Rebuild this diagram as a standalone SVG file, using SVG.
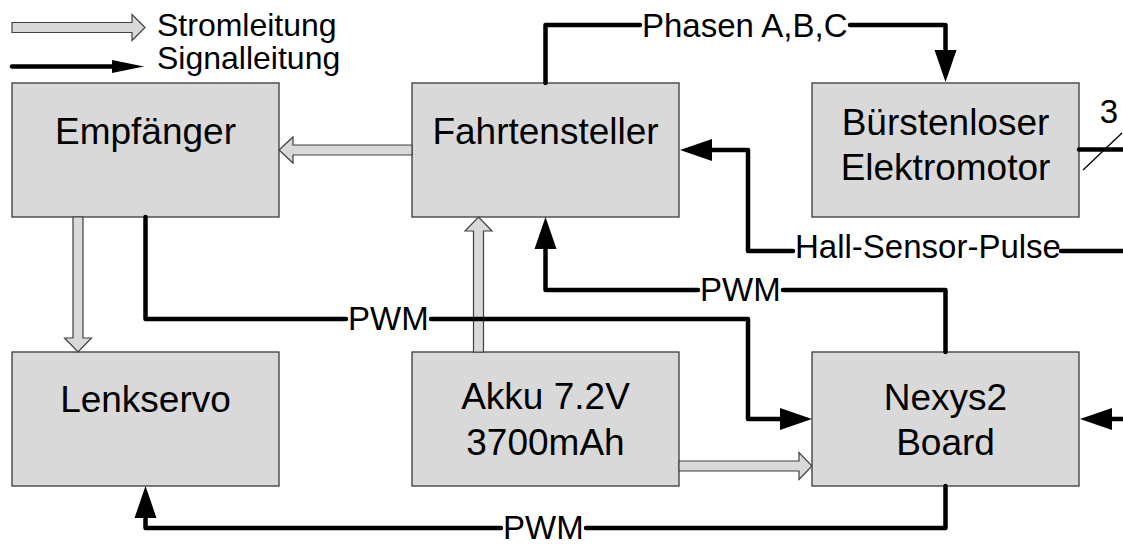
<svg xmlns="http://www.w3.org/2000/svg" width="1123" height="548" viewBox="0 0 1123 548">
<style>
  .box{fill:#d9d9d9;stroke:#3a3a3a;stroke-width:1.3}
  .t{font-family:"Liberation Sans",Arial,sans-serif;font-size:37px;fill:#000;text-anchor:middle}
  .lbl{font-family:"Liberation Sans",Arial,sans-serif;font-size:33px;fill:#000}
  .leg{font-family:"Liberation Sans",Arial,sans-serif;font-size:32px;fill:#000}
  .pow{fill:#d9d9d9;stroke:#404040;stroke-width:1.2;stroke-linejoin:miter}
  .sig{fill:none;stroke:#000;stroke-width:4.5;stroke-linecap:round;stroke-linejoin:round}
  .thin{fill:none;stroke:#000;stroke-width:1.3}
</style>
<defs>
  <marker id="sig" markerUnits="userSpaceOnUse" markerWidth="32" markerHeight="22" refX="0" refY="11" orient="auto" overflow="visible">
    <path d="M0,0 L32,11 L0,22 z" fill="#000"/>
  </marker>
  <marker id="sigLegend" markerUnits="userSpaceOnUse" markerWidth="32" markerHeight="13" refX="0" refY="6.5" orient="auto" overflow="visible">
    <path d="M0,0 L32,6.5 L0,13 z" fill="#000"/>
  </marker>
</defs>
<rect width="1123" height="548" fill="#fff"/>

<g id="legend">
  <polygon class="pow" points="12,22.5 132,22.5 132,14.5 145,27.5 132,40.5 132,32.5 12,32.5"/>
  <text class="leg" x="157" y="36">Stromleitung</text>
  <path class="sig" d="M12,66.5 H112" marker-end="url(#sigLegend)"/>
  <text class="leg" x="157" y="69">Signalleitung</text>
</g>

<g id="node-empfaenger">
  <rect class="box" x="12" y="83" width="267" height="134"/>
  <text class="t" x="145.5" y="144">Empfänger</text>
</g>
<g id="node-fahrtensteller">
  <rect class="box" x="412" y="83" width="267" height="134"/>
  <text class="t" x="545.5" y="144">Fahrtensteller</text>
</g>
<g id="node-motor">
  <rect class="box" x="812" y="83" width="267" height="134"/>
  <text class="t" x="945.5" y="135">Bürstenloser</text>
  <text class="t" x="945.5" y="180">Elektromotor</text>
</g>
<g id="node-lenkservo">
  <rect class="box" x="12" y="352" width="267" height="134"/>
  <text class="t" x="145.5" y="412">Lenkservo</text>
</g>
<g id="node-akku">
  <rect class="box" x="412" y="352" width="267" height="134"/>
  <text class="t" x="545.5" y="409">Akku 7.2V</text>
  <text class="t" x="545.5" y="455">3700mAh</text>
</g>
<g id="node-nexys2">
  <rect class="box" x="812" y="352" width="267" height="134"/>
  <text class="t" x="945.5" y="410">Nexys2</text>
  <text class="t" x="945.5" y="455">Board</text>
</g>

<g id="connectors">
  <!-- power lines (hollow arrows) -->
  <polygon class="pow" points="412,145 293,145 293,137 279,150 293,163 293,155 412,155"/>
  <polygon class="pow" points="73,217 83,217 83,338 91.5,338 78,352 64.5,338 73,338"/>
  <polygon class="pow" points="473.5,352 473.5,231 465,231 478.5,217 492,231 483.5,231 483.5,352"/>
  <polygon class="pow" points="679,461 799,461 799,452.5 812,466 799,479.5 799,471 679,471"/>

  <!-- Phasen A,B,C -->
  <path class="sig" d="M545.5,83 V25 H640"/>
  <text class="lbl" x="642" y="37">Phasen A,B,C</text>
  <path class="sig" d="M850,25 H945.5 V50" marker-end="url(#sig)"/>

  <!-- Hall-Sensor-Pulse -->
  <path class="sig" d="M1123,251 H1061"/>
  <text class="lbl" x="795" y="258">Hall-Sensor-Pulse</text>
  <path class="sig" d="M793,251 H748 V150 H712" marker-end="url(#sig)"/>

  <!-- PWM Empfänger -> Nexys2 -->
  <path class="sig" d="M145.5,217 V319 H346"/>
  <text class="lbl" x="348" y="330">PWM</text>
  <path class="sig" d="M431,319 H748 V419 H780" marker-end="url(#sig)"/>

  <!-- PWM Nexys2 -> Fahrtensteller -->
  <path class="sig" d="M945.5,352 V290 H783"/>
  <text class="lbl" x="700" y="301">PWM</text>
  <path class="sig" d="M698,290 H545.5 V249" marker-end="url(#sig)"/>

  <!-- PWM Nexys2 -> Lenkservo -->
  <path class="sig" d="M945.5,486 V528 H586"/>
  <text class="lbl" x="503" y="539">PWM</text>
  <path class="sig" d="M501,528 H145.5 V518" marker-end="url(#sig)"/>

  <!-- input into Nexys2 from the right -->
  <path class="sig" d="M1123,419 H1112" marker-end="url(#sig)"/>

  <!-- motor output, 3 phases -->
  <path class="sig" d="M1079,149.5 H1125"/>
  <line class="thin" x1="1083" y1="170" x2="1122" y2="133"/>
  <text class="lbl" x="1109" y="123" text-anchor="middle" font-size="32">3</text>
</g>
</svg>
